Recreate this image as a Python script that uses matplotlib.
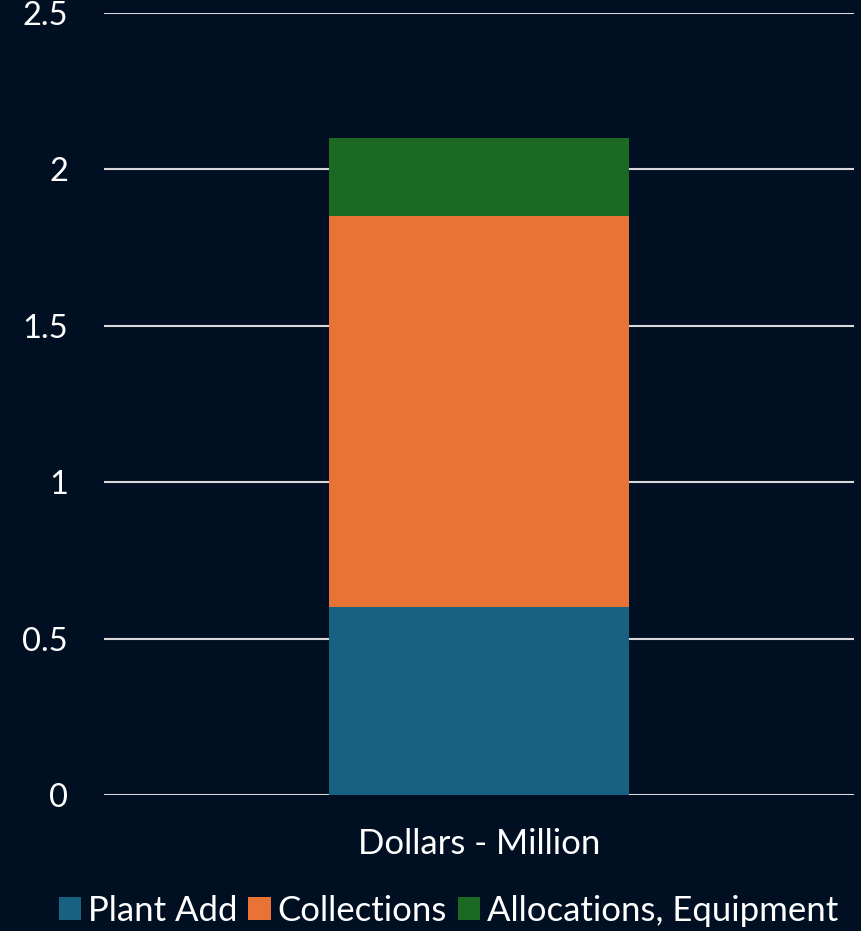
import numpy as np
import matplotlib
matplotlib.use("Agg")
import matplotlib.pyplot as plt

categories = ['Dollars - Million']
series_names = ['Plant Add', 'Collections', 'Allocations, Equipment']
plant_add = [0.6]
collections = [1.25]
allocations = [0.25]
colors = ['#186183', '#e97335', '#1b6923']

bg = '#000f22'
plt.rcParams['font.family'] = ['Lato', 'DejaVu Sans']

fig = plt.figure(figsize=(8.61, 9.31), dpi=100, facecolor=bg)
ax = fig.add_axes([104 / 861, 1 - 795 / 931, 750 / 861, 782 / 931])
ax.set_facecolor(bg)

x = np.arange(len(categories))
bottom = np.zeros(len(categories))
for vals, name, c in zip([plant_add, collections, allocations], series_names, colors):
    ax.bar(x, vals, 0.4, bottom=bottom, color=c, label=name, zorder=3)
    bottom += np.array(vals)

ax.set_xlim(-0.5, 0.5)
ax.set_ylim(0, 2.5)
ax.set_yticks([0, 0.5, 1, 1.5, 2, 2.5])
ax.set_yticklabels(['0', '0.5', '1', '1.5', '2', '2.5'])
ax.set_xticks(x)
ax.set_xticklabels(categories)
ax.yaxis.grid(True, color='#d9d9d9', linewidth=1.5, zorder=0)
ax.tick_params(axis='both', length=0, colors='white', labelsize=23.5)
ax.tick_params(axis='x', pad=24, labelsize=25)
ax.tick_params(axis='y', pad=26)
for s in ax.spines.values():
    s.set_visible(False)

fig.legend(loc='center', bbox_to_anchor=(0.521, 1 - 911 / 931), ncol=3, frameon=False,
           fontsize=25, labelcolor='white', handlelength=0.65, handleheight=0.65,
           handletextpad=0.2, columnspacing=0.3)

fig.savefig('out.png', facecolor=bg)
